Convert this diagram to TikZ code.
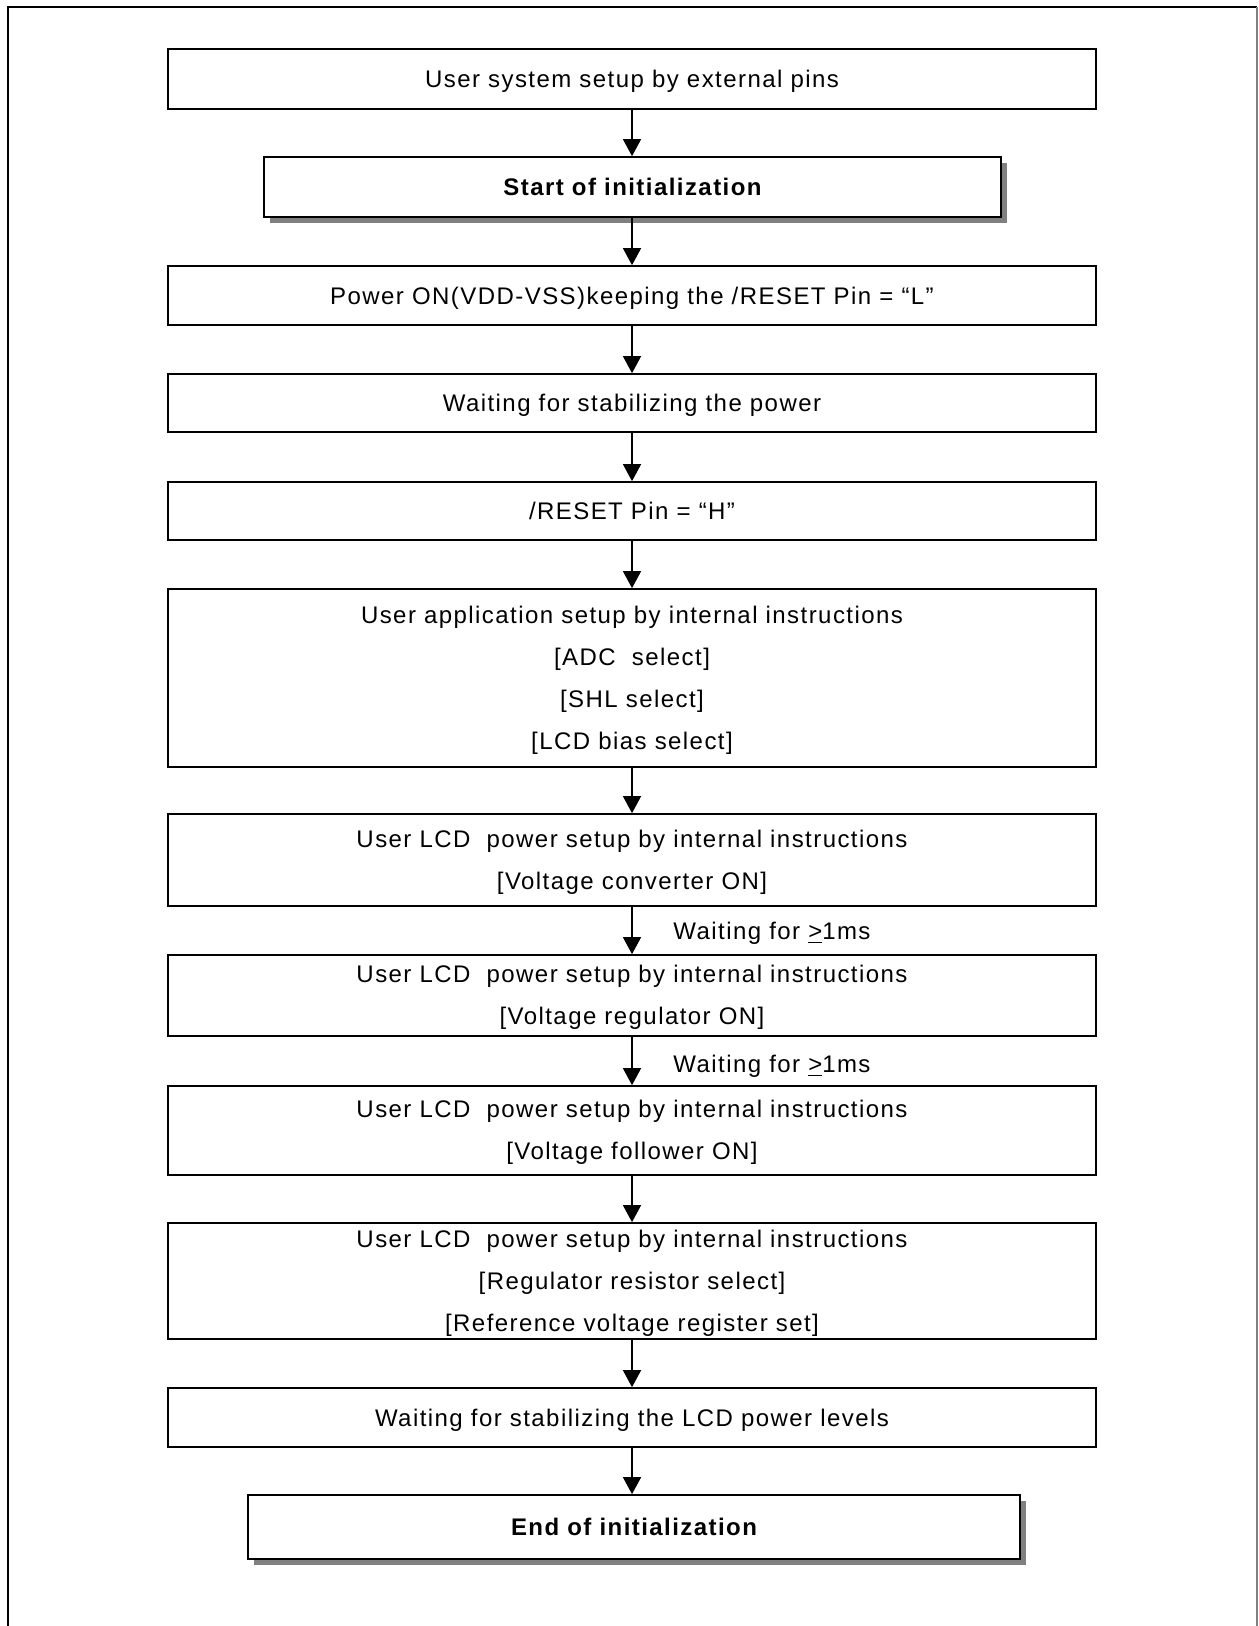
\documentclass[tikz,border=0pt]{standalone}
\usepackage{fontspec}
\setmainfont{Liberation Sans}[LetterSpace=6]
\usetikzlibrary{arrows.meta}

\definecolor{shadowgray}{HTML}{808080}

% centred stack of lines, one row per \baselineskip, centred on the
% baseline and taking no height of its own, so the box keeps its size
\newcommand\linestack[1]{\raisebox{-3pt}[0pt][0pt]{\begin{tabular}{@{}c@{}}#1\end{tabular}}}

\begin{document}
\begin{tikzpicture}[x=0.5pt,y=-0.5pt,
  every node/.style={font=\fontsize{12pt}{21pt}\selectfont, inner sep=0pt},
  boxtext/.style={align=center,
    execute at begin node={\rule{0pt}{12pt}},
    execute at end node={\rule[-3.4pt]{0pt}{3.4pt}}},
  frame/.style={draw=black, line width=0.85pt, fill=white},
  stepbox/.style={boxtext, frame, minimum width=464pt},
  stackbox/.style={frame, minimum width=464pt},
  keybox/.style={boxtext, frame,
    font=\fontsize{12pt}{21pt}\selectfont\bfseries},
  flow/.style={line width=0.75pt, -{Triangle[width=9pt,length=8.5pt]}},
  note/.style={anchor=west}
]
\useasboundingbox (0,0) rectangle (1258,1626);
\clip (0,0) rectangle (1258,1626);

% page frame, open at the bottom
\draw[black, line width=1pt] (8,1650) -- (8,7) -- (1257,7);
\draw[shadowgray, line width=0.6pt] (1257,7) -- (1257,1650);

% shadows of the two key boxes
\fill[shadowgray] (270,163) rectangle (1007,223);
\fill[shadowgray] (254,1501) rectangle (1026,1565);

% steps
\node[stepbox, minimum height=30pt] (s1) at (632,79) {User system setup by external pins};
\node[keybox, minimum width=368.5pt, minimum height=30pt] (s2) at (632.5,187) {Start of initialization};
\node[stepbox, minimum height=29.5pt] (s3) at (632,295.5) {Power ON(VDD-VSS)keeping the /RESET Pin = “L”};
\node[stepbox, minimum height=29pt] (s4) at (632,403) {Waiting for stabilizing the power};
\node[stepbox, minimum height=29pt] (s5) at (632,511) {/RESET Pin = “H”};
\node[stackbox, minimum height=89pt] (s6) at (632,678) {\linestack{User application setup by internal instructions\\{[ADC~~select]}\\{[SHL select]}\\{[LCD bias select]}}};
\node[stackbox, minimum height=46pt] (s7) at (632,860) {\linestack{User LCD~~power setup by internal instructions\\{[Voltage converter ON]}}};
\node[stackbox, minimum height=40.5pt] (s8) at (632,995.5) {\linestack{User LCD~~power setup by internal instructions\\{[Voltage regulator ON]}}};
\node[stackbox, minimum height=44.5pt] (s9) at (632,1130.5) {\linestack{User LCD~~power setup by internal instructions\\{[Voltage follower ON]}}};
\node[stackbox, minimum height=58pt] (s10) at (632,1281) {\linestack{User LCD~~power setup by internal instructions\\{[Regulator resistor select]}\\{[Reference voltage register set]}}};
\node[stepbox, minimum height=29.5pt] (s11) at (632,1417.5) {Waiting for stabilizing the LCD power levels};
\node[keybox, minimum width=386pt, minimum height=32pt] (s12) at (634,1527) {End of initialization};

% connectors
\foreach \a/\b in {s1/s2,s2/s3,s3/s4,s4/s5,s5/s6,s6/s7,s7/s8,s8/s9,s9/s10,s10/s11,s11/s12}
  \draw[flow] (s1.south |- \a.south) -- (s1.south |- \b.north);

% delay notes
\node[note] (w1) at (673,933) {Waiting for \underline{>}1ms};
\node[note] (w2) at (673,1066) {Waiting for \underline{>}1ms};
\end{tikzpicture}
\end{document}
